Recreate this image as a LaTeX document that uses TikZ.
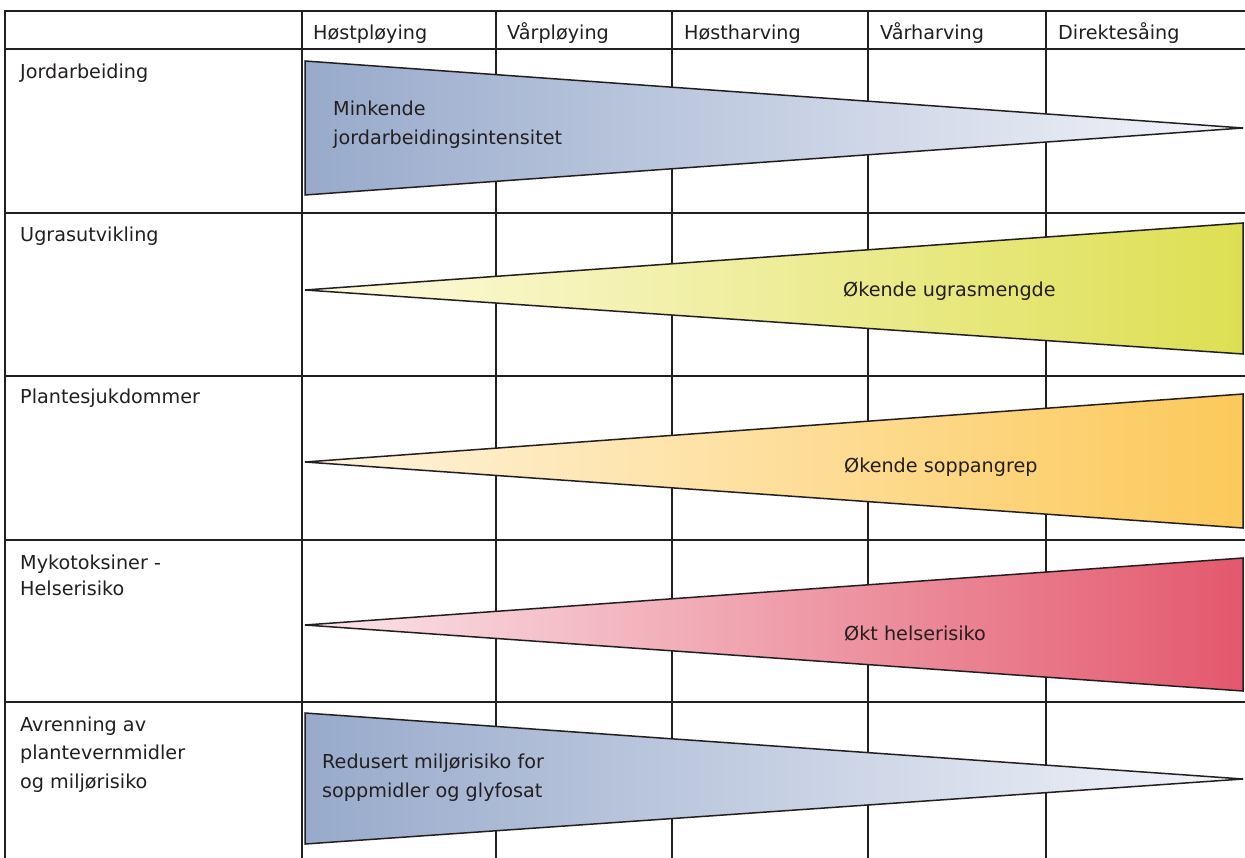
\documentclass[tikz,border=0pt]{standalone}
\usepackage{fontspec}
\setmainfont{DejaVu Sans}
\definecolor{ink}{HTML}{231F20}
\definecolor{blueL}{HTML}{98AACB}
\definecolor{blueR}{HTML}{F3F5FA}
\definecolor{yelL}{HTML}{FFFBE2}
\definecolor{yelR}{HTML}{DDDF52}
\definecolor{orL}{HTML}{FFF4DE}
\definecolor{orR}{HTML}{FCC95A}
\definecolor{redL}{HTML}{FBE6EA}
\definecolor{redR}{HTML}{E3586D}
\begin{document}
\begin{tikzpicture}[x=1pt,y=-1pt,
  gridline/.style={draw=ink,line width=2pt},
  wedge/.style={draw=ink,line width=1.5pt,line join=miter},
  txt/.style={inner sep=0pt,anchor=base west,text=ink,font=\fontsize{19.2}{28}\selectfont}]
\useasboundingbox (0,0) rectangle (1245,858);
\fill[white] (0,0) rectangle (1245,858);
\begin{scope}
\clip (0,0) rectangle (1245,858);
% horizontal lines
\foreach \y in {11,49.5,213,376,540,702}
  \draw[gridline] (5,\y) -- (1250,\y);
% vertical lines
\foreach \x in {5,302,496,672,868,1046}
  \draw[gridline] (\x,10) -- (\x,870);
\end{scope}
% header
\node[txt] (h1) at (313,40) {Høstpløying};
\node[txt] (h2) at (507,40) {Vårpløying};
\node[txt] (h3) at (684,40) {Høstharving};
\node[txt] (h4) at (880,40) {Vårharving};
\node[txt] (h5) at (1058,40) {Direktesåing};
% row labels
\node[txt] (r1) at (20,78.5) {Jordarbeiding};
\node[txt] (r2) at (20,242) {Ugrasutvikling};
\node[txt] (r3) at (20,404) {Plantesjukdommer};
\node[txt] (r4a) at (20,569) {Mykotoksiner -};
\node[txt] (r4b) at (20,595) {Helserisiko};
\node[txt] (r5a) at (20,731) {Avrenning av};
\node[txt] (r5b) at (20,759.5) {plantevernmidler};
\node[txt] (r5c) at (20,788) {og miljørisiko};
% wedges
\draw[wedge,left color=blueL,right color=blueR] (305,61) -- (1243,128) -- (305,195) -- cycle;
\draw[wedge,left color=yelL,right color=yelR] (305,290) -- (1243,223) -- (1243,354) -- cycle;
\draw[wedge,left color=orL,right color=orR] (305,462) -- (1243,394) -- (1243,528) -- cycle;
\draw[wedge,left color=redL,right color=redR] (305,625) -- (1243,558) -- (1243,691) -- cycle;
\draw[wedge,left color=blueL,right color=blueR] (305,713) -- (1243,779) -- (305,844) -- cycle;
% wedge texts
\node[txt] (t1a) at (333,116) {Minkende};
\node[txt] (t1b) at (333,145) {jordarbeidingsintensitet};
\node[txt] (t2) at (843,297) {Økende ugrasmengde};
\node[txt] (t3) at (844,472) {Økende soppangrep};
\node[txt] (t4) at (844,640) {Økt helserisiko};
\node[txt] (t5a) at (322,768) {Redusert miljørisiko for};
\node[txt] (t5b) at (322,797) {soppmidler og glyfosat};
\end{tikzpicture}
\end{document}
